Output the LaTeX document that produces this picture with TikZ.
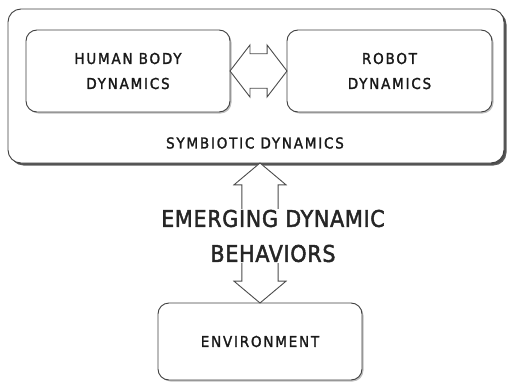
\documentclass[tikz,border=0pt]{standalone}
\usepackage{fontspec}
\newfontfamily\boxfont[LetterSpace=12, FakeBold=1.6]{DejaVu Sans Condensed}
\newfontfamily\flowfont[LetterSpace=3, FakeBold=2]{DejaVu Sans Condensed}
\usetikzlibrary{shapes.arrows, shadows, calc}

\begin{document}
\begin{tikzpicture}[
    x=1pt, y=-1pt,
    line width=0.9pt,
    panel/.style={draw=black!75, fill=white, rounded corners=11pt, inner sep=0pt,
        drop shadow={shadow xshift=1.5pt, shadow yshift=-1.5pt, fill=black!50}},
    bigpanel/.style={panel, rounded corners=13pt,
        drop shadow={shadow xshift=2.5pt, shadow yshift=-2.5pt, fill=black!80, opacity=0.8}},
    txt/.style={font=\boxfont\fontsize{15}{25}\selectfont, text=black!90, align=center},
    fatarrow/.style={double arrow, draw=black!70, fill=white, inner xsep=0pt,
        inner ysep=#1, minimum width=52pt, double arrow tip angle=105},
    fatarrow/.default=13.5pt
]
    \useasboundingbox (0,0) rectangle (507,383);

    % Outer box
    \node[bigpanel, minimum width=496pt, minimum height=154pt] (sym) at (256,86) {};
    \node[txt] (symtxt) at (255,143) {SYMBIOTIC DYNAMICS};

    % Inner boxes
    \node[panel, minimum width=204pt, minimum height=82pt] (human) at (128,71) {};
    \node[txt] at (human) {HUMAN BODY\\DYNAMICS};
    \node[panel, minimum width=205pt, minimum height=82pt] (robot) at (389.5,71) {};
    \node[txt] at (robot) {ROBOT\\DYNAMICS};

    % Exchange arrow
    \node[fatarrow, minimum height=57pt] (link) at ($(human.east)!0.5!(robot.west)$) {};

    % Environment
    \node[panel, minimum width=204pt, minimum height=77pt] (env) at (260,341.5) {};
    \node[txt] at (env) {ENVIRONMENT};

    % Vertical arrow + label
    \coordinate (symfoot) at (sym.south -| env.north);
    \node[fatarrow=16pt, rotate=90, minimum height=140pt, double arrow tip angle=100]
        (flow) at ($(symfoot)!0.5!(env.north)$) {};
    \node[fill=white, inner sep=1pt, font=\flowfont\fontsize{23}{35}\selectfont,
        text=black!85, align=center] (emerge) at (273,236) {EMERGING DYNAMIC\\BEHAVIORS};

\end{tikzpicture}
\end{document}
